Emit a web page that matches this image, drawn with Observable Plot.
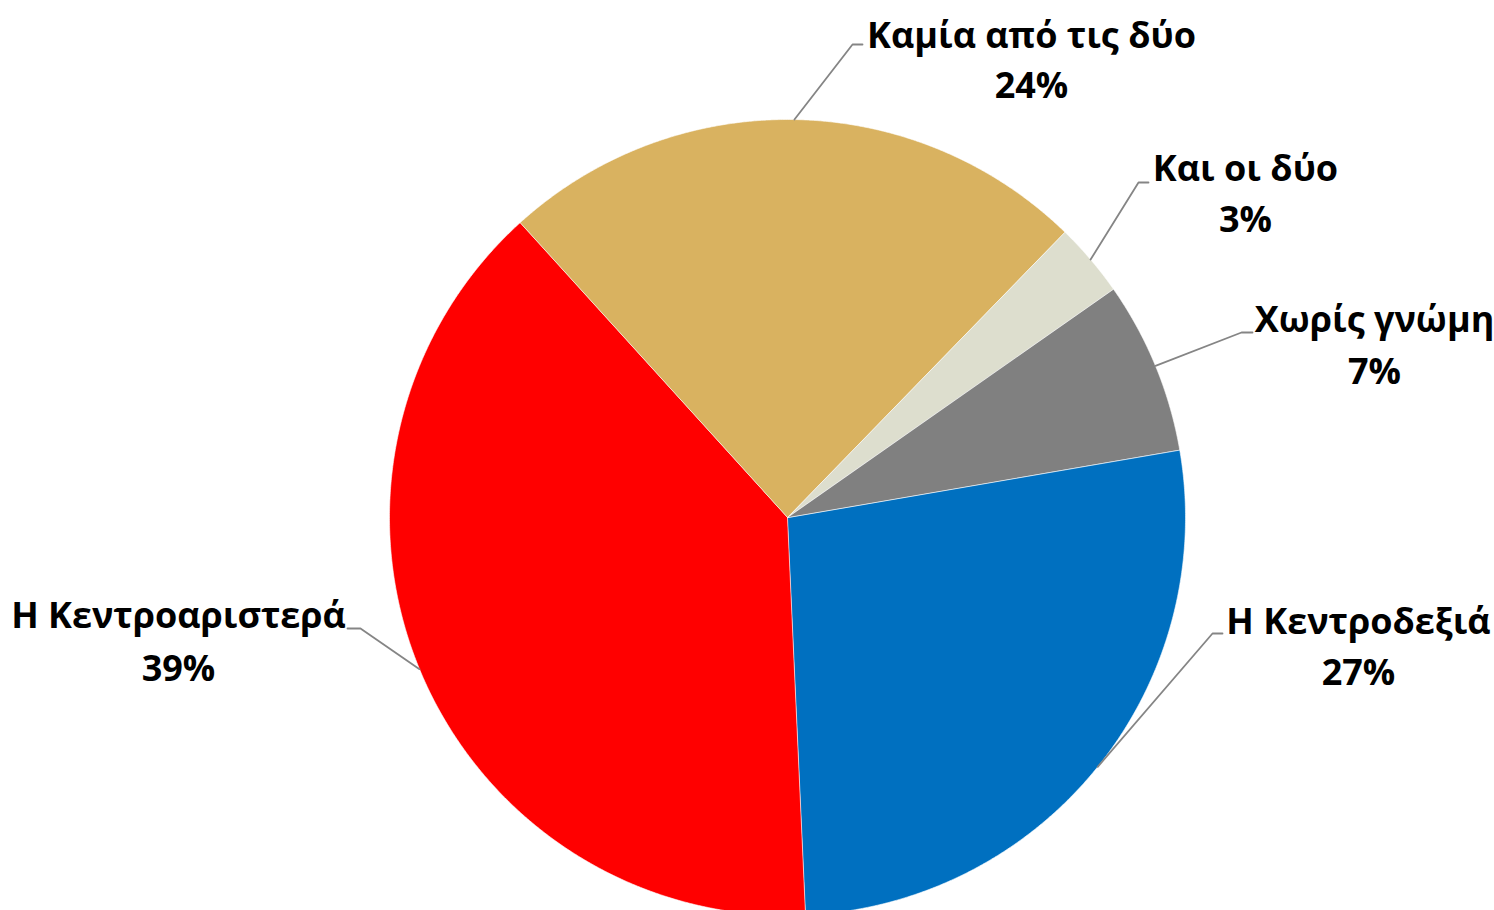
<!DOCTYPE html>
<html><head><meta charset="utf-8">
<script src="https://cdn.jsdelivr.net/npm/d3@7"></script>
<script src="https://cdn.jsdelivr.net/npm/@observablehq/plot@0.6"></script>
<style>html,body{margin:0;padding:0;background:#fff;overflow:hidden}</style>
</head><body><div id="chart"></div>
<script>
// ---- data ----
const categories = ["Η Κεντροδεξιά", "Η Κεντροαριστερά", "Καμία από τις δύο", "Και οι δύο", "Χωρίς γνώμη"];
const values = [27, 39, 24, 3, 7];
const percentLabels = ["27%", "39%", "24%", "3%", "7%"];
const colors = ["#0070C0", "#FF0000", "#D9B260", "#DDDECE", "#808080"];

// ---- layout (pixels) ----
const W = 1494, H = 910, CX = 787, CY = 517, R = 398, START_DEG = 80.2;
const FONT = "'Open Sans', 'Noto Sans', sans-serif";
const FONT_SIZE = 36;
// label centre x, name baseline y, percent baseline y, leader elbow and end
const labelLayout = [
  {lx: 1358, ny: 633, py: 684, ex: 1212, ey: 633, tx: 1222},
  {lx: 178,  ny: 627, py: 680, ex: 360,  ey: 628, tx: 347},
  {lx: 1031, ny: 47,  py: 97,  ex: 852,  ey: 44,  tx: 862},
  {lx: 1245, ny: 180, py: 231, ex: 1138, ey: 182, tx: 1148},
  {lx: 1374, ny: 331, py: 383, ex: 1241, ey: 332, tx: 1252}
];

const rad = Math.PI / 180;
const arcs = d3.pie().sort(null).startAngle(START_DEG * rad).endAngle(START_DEG * rad + 2 * Math.PI)(values);
const pt = (a, r) => [CX + r * Math.sin(a), CY - r * Math.cos(a)];

const sliceRows = [];
arcs.forEach((a, i) => {
  const name = categories[i], color = colors[i];
  sliceRows.push({name, color, x: CX, y: CY});
  const n = Math.max(2, Math.ceil((a.endAngle - a.startAngle) / (0.25 * rad)));
  for (let k = 0; k <= n; k++) {
    const ang = a.startAngle + (a.endAngle - a.startAngle) * k / n;
    const [x, y] = pt(ang, R);
    sliceRows.push({name, color, x, y});
  }
});

const leaderRows = [];
const labelRows = [];
arcs.forEach((a, i) => {
  const L = labelLayout[i];
  const mid = (a.startAngle + a.endAngle) / 2;
  const [x0, y0] = pt(mid, R);
  leaderRows.push({name: categories[i], x: x0, y: y0});
  leaderRows.push({name: categories[i], x: L.ex, y: L.ey});
  leaderRows.push({name: categories[i], x: L.tx, y: L.ey});
  labelRows.push({name: categories[i], pct: percentLabels[i], x: L.lx, ny: L.ny, py: L.py});
});

const chart = Plot.plot({
  width: W, height: H,
  margin: 0,
  x: {axis: null, domain: [0, W]},
  y: {axis: null, domain: [0, H], reverse: true},
  color: {type: "identity"},
  marks: [
    Plot.line(sliceRows, {x: "x", y: "y", z: "name", fill: "color", stroke: "white", strokeWidth: 0.6, curve: "linear-closed"}),
    Plot.line(leaderRows, {x: "x", y: "y", z: "name", stroke: "#858585", strokeWidth: 1.8}),
    Plot.text(labelRows, {x: "x", y: "ny", text: "name", fontSize: FONT_SIZE, fontWeight: "bold", fontFamily: FONT, fill: "black", lineAnchor: "bottom", textAnchor: "middle"}),
    Plot.text(labelRows, {x: "x", y: "py", text: "pct", fontSize: FONT_SIZE, fontWeight: "bold", fontFamily: FONT, fill: "black", lineAnchor: "bottom", textAnchor: "middle"})
  ]
});
document.getElementById("chart").appendChild(chart);
</script>
</body></html>
